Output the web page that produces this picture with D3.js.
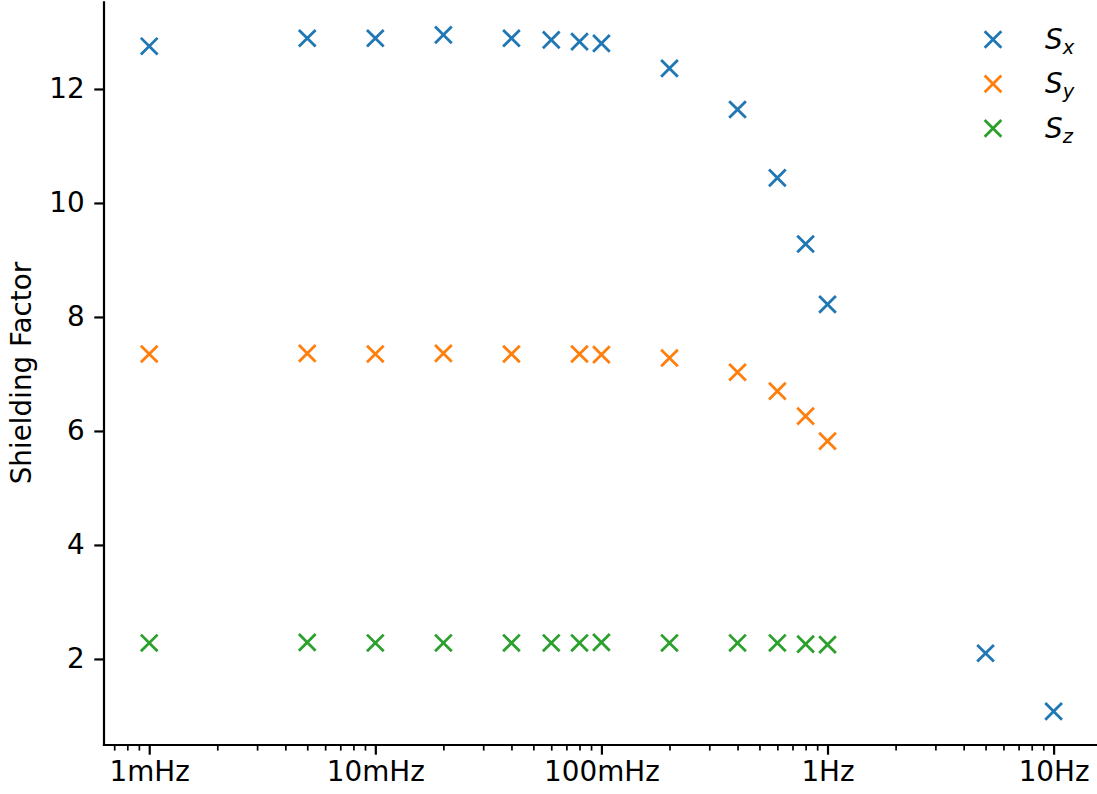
<!DOCTYPE html>
<html>
<head>
<meta charset="utf-8">
<script src="https://cdn.jsdelivr.net/npm/d3@7"></script>
<style>
  html, body { margin: 0; padding: 0; background: #fff; }
  svg { display: block; }
  text { font-family: "DejaVu Sans", sans-serif; }
</style>
</head>
<body>
<svg id="chart" width="1097" height="794"></svg>
<script>
// Measured frequencies (Hz)
const freqs = [0.001, 0.005, 0.01, 0.02, 0.04, 0.06, 0.08, 0.1, 0.2, 0.4, 0.6, 0.8, 1, 5, 10];

// Shielding factor per axis
const sxValues = [12.75, 12.89, 12.89, 12.95, 12.89, 12.86, 12.83, 12.80, 12.36, 11.64, 10.44, 9.28, 8.22, 2.10, 1.08];
const syFreqs  = [0.001, 0.005, 0.01, 0.02, 0.04, 0.08, 0.1, 0.2, 0.4, 0.6, 0.8, 1];
const syValues = [7.35, 7.36, 7.35, 7.36, 7.35, 7.35, 7.34, 7.28, 7.03, 6.70, 6.26, 5.82];
const szFreqs  = [0.001, 0.005, 0.01, 0.02, 0.04, 0.06, 0.08, 0.1, 0.2, 0.4, 0.6, 0.8, 1];
const szValues = [2.28, 2.29, 2.28, 2.28, 2.28, 2.28, 2.28, 2.29, 2.28, 2.28, 2.28, 2.26, 2.25];

const seriesNames  = ["x", "y", "z"];
const seriesColors = ["#1f77b4", "#ff7f0e", "#2ca02c"];

const xTickValues = [0.001, 0.01, 0.1, 1, 10];
const xTickLabels = ["1mHz", "10mHz", "100mHz", "1Hz", "10Hz"];
const yTickValues = [2, 4, 6, 8, 10, 12];
const yLabel = "Shielding Factor";

const series = [
  { name: seriesNames[0], color: seriesColors[0], pts: freqs.map((f, i) => [f, sxValues[i]]) },
  { name: seriesNames[1], color: seriesColors[1], pts: syFreqs.map((f, i) => [f, syValues[i]]) },
  { name: seriesNames[2], color: seriesColors[2], pts: szFreqs.map((f, i) => [f, szValues[i]]) }
];

const svg = d3.select("#chart");
const FS = 27.8;
const plotLeft = 104, plotBottom = 745, plotTop = 1.2;
const decade = 226.1;

const x = d3.scaleLog()
  .domain([Math.pow(10, -3.2), Math.pow(10, 1.2)])
  .range([plotLeft, plotLeft + 4.4 * decade]);
const y = d3.scaleLinear()
  .domain([0.49, 13.54])
  .range([plotBottom, plotTop]);

// Minor ticks on the log axis
const minor = [];
for (let e = -4; e <= 1; e++) {
  for (let m = 2; m <= 9; m++) {
    const v = m * Math.pow(10, e);
    if (v >= x.domain()[0] && v <= x.domain()[1]) minor.push(v);
  }
}

const xMinorAxis = d3.axisBottom(x).tickValues(minor).tickFormat("").tickSize(5.6);
const gxm = svg.append("g").attr("transform", `translate(0,${plotBottom})`).call(xMinorAxis);
gxm.select(".domain").remove();
gxm.selectAll(".tick line").attr("stroke", "#000").attr("stroke-width", 1.7);

const xAxis = d3.axisBottom(x)
  .tickValues(xTickValues)
  .tickFormat((d, i) => xTickLabels[i])
  .tickSize(9.7)
  .tickPadding(7);
const gx = svg.append("g").attr("transform", `translate(0,${plotBottom})`).call(xAxis);
gx.select(".domain").remove();
gx.selectAll(".tick line").attr("stroke", "#000").attr("stroke-width", 2.2);
gx.selectAll(".tick text")
  .attr("fill", "#000")
  .style("font-size", FS + "px")
  .style("font-family", "DejaVu Sans");

const yAxis = d3.axisLeft(y)
  .tickValues(yTickValues)
  .tickFormat(d3.format("d"))
  .tickSize(9.7)
  .tickPadding(9.7);
const gy = svg.append("g").attr("transform", `translate(${plotLeft},0)`).call(yAxis);
gy.select(".domain").remove();
gy.selectAll(".tick line").attr("stroke", "#000").attr("stroke-width", 2.2);
gy.selectAll(".tick text")
  .attr("fill", "#000")
  .style("font-size", FS + "px")
  .style("font-family", "DejaVu Sans");

// Spines: left and bottom only
svg.append("line")
  .attr("x1", plotLeft).attr("x2", plotLeft)
  .attr("y1", y.range()[1]).attr("y2", plotBottom + 1.1)
  .attr("stroke", "#000").attr("stroke-width", 2.2);
svg.append("line")
  .attr("x1", plotLeft - 1.1).attr("x2", x.range()[1])
  .attr("y1", plotBottom).attr("y2", plotBottom)
  .attr("stroke", "#000").attr("stroke-width", 2.2);

// Y axis label
svg.append("text")
  .attr("transform", `translate(31,${(plotBottom + plotTop) / 2}) rotate(-90)`)
  .attr("text-anchor", "middle")
  .style("font-size", FS + "px")
  .attr("fill", "#000")
  .text(yLabel);

// 'x' markers
const h = 8.35;
const crossPath = `M${-h},${-h}L${h},${h}M${-h},${h}L${h},${-h}`;

series.forEach(s => {
  svg.append("g").selectAll("path")
    .data(s.pts)
    .join("path")
    .attr("d", crossPath)
    .attr("transform", d => `translate(${x(d[0])},${y(d[1])})`)
    .attr("fill", "none")
    .attr("stroke", s.color)
    .attr("stroke-width", 2.8);
});

// Legend (no frame)
const legend = svg.append("g");
series.forEach((s, i) => {
  const ly = 39.5 + i * 44.4;
  legend.append("path")
    .attr("d", crossPath)
    .attr("transform", `translate(993,${ly})`)
    .attr("fill", "none")
    .attr("stroke", s.color)
    .attr("stroke-width", 2.8);
  const t = legend.append("text")
    .attr("x", 1045)
    .attr("y", ly + 9.5)
    .attr("fill", "#000")
    .style("font-size", FS + "px")
    .style("font-style", "italic");
  t.append("tspan").text("S");
  t.append("tspan")
    .attr("dy", 5)
    .style("font-size", (FS * 0.7) + "px")
    .text(s.name);
});
</script>
</body>
</html>
